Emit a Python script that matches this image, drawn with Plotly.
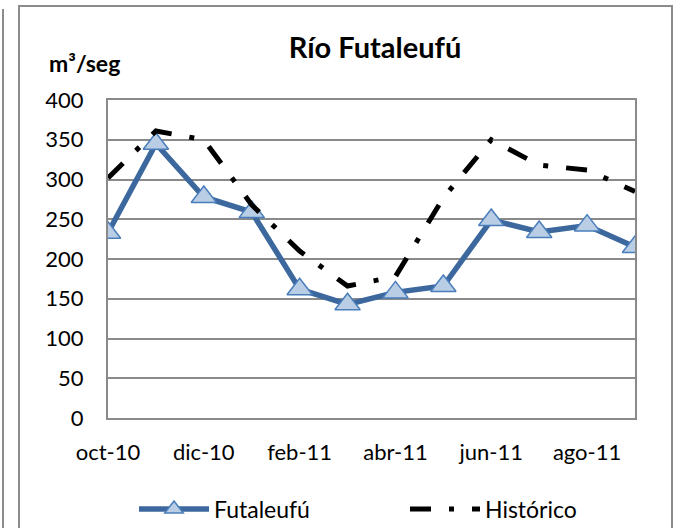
import plotly.graph_objects as go

# Monthly flow, Río Futaleufú (m3/seg), Oct 2010 - Sep 2011
months = ["oct-10", "nov-10", "dic-10", "ene-11", "feb-11", "mar-11",
          "abr-11", "may-11", "jun-11", "jul-11", "ago-11", "sep-11"]
futaleufu = [233, 345, 278, 259, 162, 143, 158, 166, 249, 234, 242, 215]
historico = [302, 361, 350, 268, 210, 166, 178, 277, 350, 318, 312, 285]

W, H = 678, 528
L, R, T, B = 108, 635, 100, 418  # plot area edges in px


def px_x(px):
    return (px - L) / (R - L)


def px_y(py):
    return (B - py) / (B - T)


fig = go.Figure()

fig.add_trace(go.Scatter(
    x=months, y=futaleufu, name="Futaleufú", mode="lines+markers",
    line=dict(color="#3c689e", width=5.5),
    marker=dict(symbol="triangle-up", size=22, color="#b9cde5",
                line=dict(color="#4a7ebb", width=1.5)),
    legend="legend",
))

fig.add_trace(go.Scatter(
    x=months, y=historico, name="Histórico", mode="lines",
    line=dict(color="black", width=5, dash="21px,18px,5px,18px"),
    legend="legend2",
))

grid = "#8a8a8a"
font = "Lato, 'Noto Sans', sans-serif"
legend_style = dict(orientation="h", y=px_y(509), xanchor="left",
                    yanchor="middle", itemwidth=70,
                    font=dict(family=font, size=23, color="black"),
                    bgcolor="rgba(0,0,0,0)")

fig.update_layout(
    width=W, height=H,
    margin=dict(l=L, r=W - R, t=T, b=H - B, autoexpand=False),
    paper_bgcolor="white", plot_bgcolor="white",
    font=dict(family=font, color="black", size=22),
    title=dict(text="<b>Río Futaleufú</b>", x=375 / W, y=1 - 48 / H,
               xanchor="center", yanchor="middle",
               font=dict(family=font, size=29, color="black")),
    showlegend=True,
    legend=dict(x=px_x(134), **legend_style),
    legend2=dict(x=px_x(405), **legend_style),
    xaxis=dict(type="category", range=[0, len(months) - 1],
               tickmode="array", tickvals=months[::2], ticktext=months[::2],
               showgrid=False, showline=True, linecolor=grid, linewidth=2,
               mirror=True, ticks="", ticklabelstandoff=14,
               tickfont=dict(family=font, size=22)),
    yaxis=dict(range=[0, 400], dtick=50, showgrid=True, gridcolor=grid,
               gridwidth=2, showline=True, linecolor=grid, linewidth=2,
               mirror=True, ticks="", ticklabelstandoff=18, zeroline=False,
               tickfont=dict(family=font, size=22)),
    annotations=[dict(text="<b>m³/seg</b>", x=px_x(84), y=px_y(63),
                      xref="paper", yref="paper", showarrow=False,
                      xanchor="center", yanchor="middle",
                      font=dict(family=font, size=23, color="black"))],
    shapes=[
        # chart frame
        dict(type="rect", xref="paper", yref="paper",
             x0=px_x(19), x1=px_x(672), y0=px_y(540), y1=px_y(6),
             line=dict(color="#8c8c8c", width=2)),
        # neighbouring frame edge on the far left
        dict(type="line", xref="paper", yref="paper",
             x0=px_x(3), x1=px_x(3), y0=px_y(540), y1=px_y(9),
             line=dict(color="#8c8c8c", width=2)),
    ],
)

fig.write_html("out.html")
